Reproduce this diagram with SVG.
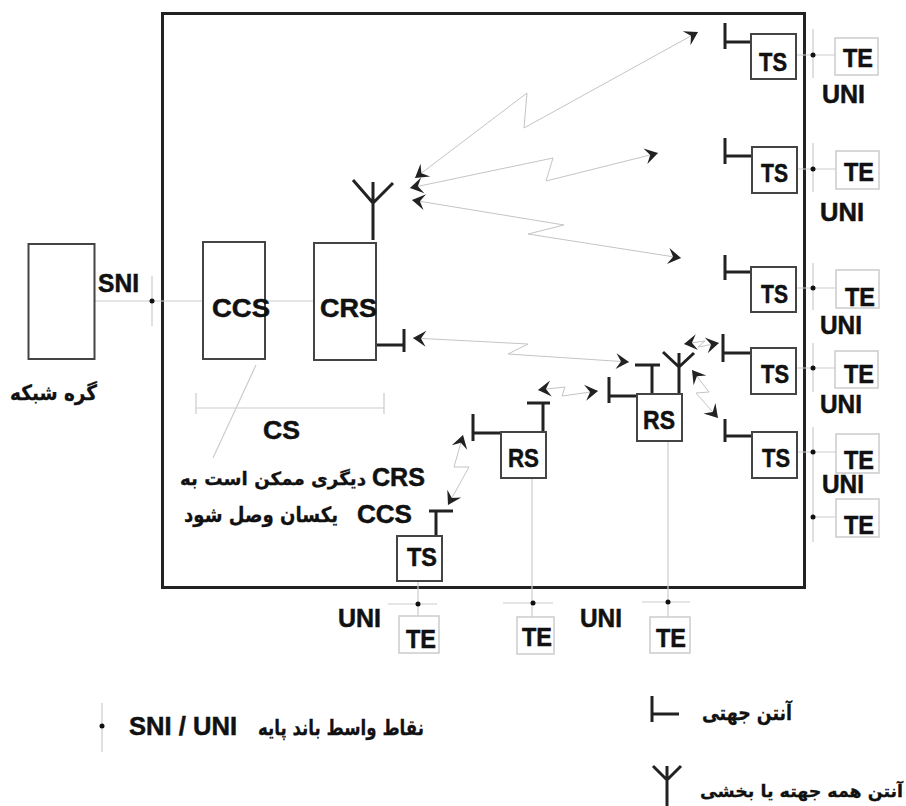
<svg xmlns="http://www.w3.org/2000/svg" width="906" height="806" viewBox="0 0 906 806">
<style>
.f{fill:none;stroke:#222;stroke-width:3}
.box{fill:#fff;stroke:#444;stroke-width:2}
.te{fill:#fff;stroke:#ccc;stroke-width:1.5}
.ant{fill:none;stroke:#222;stroke-width:3}
.l{fill:none;stroke:#ccc;stroke-width:1.2}
.z{fill:none;stroke:#c4c4c4;stroke-width:1;marker-start:url(#h);marker-end:url(#h)}
.d{fill:#111}
text{font-family:"Liberation Sans",Arial,sans-serif;font-weight:700;fill:#111;stroke:#111;stroke-width:.5px;font-size:25px}
.a{font-family:"DejaVu Sans",sans-serif;font-size:21px;stroke-width:.3px}
.s{font-size:18px}
.t{font-size:17px}
</style>
<defs>
<marker id="h" markerUnits="userSpaceOnUse" markerWidth="20" markerHeight="20" refX="16" refY="10" orient="auto-start-reverse" viewBox="0 0 20 20">
<path d="M3 2L16 10L3 18L8 10Z" fill="#222"/>
</marker>
</defs>
<rect id="frame" class="f" x="162.500" y="13.500" width="642" height="574"/>
<g id="connectors">
<path class="l" d="M94 301H203M152 276V326M265 301H314"/>
<path class="l" d="M196 408H384M196 393V414M384 393V414M256 365L213 458"/>
<path class="l" d="M796 55H835M813 29V78M797 169H836M813 143V192M796 288H836M813 263V310M796 368H835M813 343V392M797 452H836M813 427V542M813 517H836"/>
<path class="l" d="M418 581V616M388 604H437M532 478V617M503 603H553M668 441V617M642 602H690"/>
<path class="l" d="M102 703V752"/>
<polyline class="z" points="698,32 524,128 527,93 415,178"/>
<polyline class="z" points="658,153 546,181 553,158 410,188"/>
<polyline class="z" points="681,258 528,234 564,225 412,200"/>
<polyline class="z" points="413,338 528,344 508,354 629,362"/>
<polyline class="z" points="538,390 565,387 562,396 598,391"/>
<polyline class="z" points="684,344 705,341 698,347 719,343"/>
<polyline class="z" points="692,370 709,392 696,393 718,418"/>
<polyline class="z" points="463,435 454,467 469,467 448,505"/>
<g class="d">
<circle cx="152" cy="301" r="2.500"/><circle cx="813" cy="55" r="2.500"/><circle cx="813" cy="169" r="2.500"/><circle cx="813" cy="288" r="2.500"/><circle cx="813" cy="368" r="2.500"/><circle cx="813" cy="452" r="2.500"/><circle cx="813" cy="517" r="2.500"/><circle cx="418" cy="604" r="2.500"/><circle cx="533" cy="603" r="2.500"/><circle cx="668" cy="602" r="2.500"/><circle cx="102" cy="726" r="2.500"/>
</g>
</g>
<g id="network-node"><rect class="box" x="28.500" y="244" width="66" height="115"/><text class="a" x="10" y="400" textLength="87" lengthAdjust="spacingAndGlyphs">گره شبکه</text></g>
<g id="sni-label"><text x="98" y="292" textLength="41" lengthAdjust="spacingAndGlyphs">SNI</text></g>
<g id="ccs"><rect class="box" x="203" y="242" width="62" height="117"/><text x="212" y="317" textLength="58" lengthAdjust="spacingAndGlyphs">CCS</text></g>
<g id="crs"><path class="ant" d="M373 240V203M373 182V203M353 180L373 203L393 183M376 345H404M404 329V352"/><rect class="box" x="314" y="243" width="62" height="117"/><text x="320" y="317" textLength="57" lengthAdjust="spacingAndGlyphs">CRS</text></g>
<g id="cs"><text x="263" y="439" textLength="37" lengthAdjust="spacingAndGlyphs">CS</text></g>
<g id="note">
<text x="372" y="486" textLength="53" lengthAdjust="spacingAndGlyphs">CRS</text>
<text class="a s" x="180" y="485" textLength="186" lengthAdjust="spacingAndGlyphs">دیگری ممکن است به</text>
<text x="357" y="523" textLength="55" lengthAdjust="spacingAndGlyphs">CCS</text>
<text class="a" x="184" y="522" textLength="154" lengthAdjust="spacingAndGlyphs">یکسان وصل شود</text>
</g>
<g id="ts1"><path class="ant" d="M725 23V49M725 42H751"/><rect class="box" x="751" y="34" width="45" height="45"/><text x="759" y="71" textLength="28" lengthAdjust="spacingAndGlyphs">TS</text></g>
<g id="te1"><rect class="te" x="835" y="38" width="43" height="37"/><text x="843" y="67" textLength="30" lengthAdjust="spacingAndGlyphs">TE</text></g>
<text x="822" y="103" textLength="43" lengthAdjust="spacingAndGlyphs">UNI</text>
<g id="ts2"><path class="ant" d="M725 138V164M725 156H752"/><rect class="box" x="752" y="147" width="45" height="46"/><text x="761" y="182" textLength="27" lengthAdjust="spacingAndGlyphs">TS</text></g>
<g id="te2"><rect class="te" x="836" y="151" width="43" height="38"/><text x="844" y="181" textLength="30" lengthAdjust="spacingAndGlyphs">TE</text></g>
<text x="820" y="221" textLength="44" lengthAdjust="spacingAndGlyphs">UNI</text>
<g id="ts3"><path class="ant" d="M725 255V280M725 272H751"/><rect class="box" x="751" y="267" width="45" height="45"/><text x="761" y="303" textLength="27" lengthAdjust="spacingAndGlyphs">TS</text></g>
<g id="te3"><rect class="te" x="836" y="270" width="43" height="38"/><text x="845" y="306" textLength="30" lengthAdjust="spacingAndGlyphs">TE</text></g>
<text x="820" y="334" textLength="42" lengthAdjust="spacingAndGlyphs">UNI</text>
<g id="ts4"><path class="ant" d="M723 334V362M723 353H751"/><rect class="box" x="751" y="348" width="45" height="46"/><text x="761" y="383" textLength="28" lengthAdjust="spacingAndGlyphs">TS</text></g>
<g id="te4"><rect class="te" x="835" y="351" width="43" height="37"/><text x="844" y="383" textLength="30" lengthAdjust="spacingAndGlyphs">TE</text></g>
<text x="820" y="413" textLength="42" lengthAdjust="spacingAndGlyphs">UNI</text>
<g id="ts5"><path class="ant" d="M725 419V442M725 436H752"/><rect class="box" x="752" y="432" width="45" height="46"/><text x="762" y="467" textLength="28" lengthAdjust="spacingAndGlyphs">TS</text></g>
<g id="te5"><rect class="te" x="836" y="434" width="43" height="39"/><text x="844" y="469" textLength="30" lengthAdjust="spacingAndGlyphs">TE</text></g>
<text x="822" y="493" textLength="42" lengthAdjust="spacingAndGlyphs">UNI</text>
<g id="te6"><rect class="te" x="836" y="499" width="43" height="38"/><text x="844" y="534" textLength="30" lengthAdjust="spacingAndGlyphs">TE</text></g>
<g id="rs2"><path class="ant" d="M637 396H609M609 377V403M652 394V365M635 365H660M679 394V367M679 353V367M663 352L679 367L694 353"/><rect class="box" x="637" y="394" width="45" height="47"/><text x="643" y="429" textLength="32" lengthAdjust="spacingAndGlyphs">RS</text></g>
<g id="rs1"><path class="ant" d="M501 433H473M473 414V441M543 432V403M527 403H550"/><rect class="box" x="501" y="432" width="45" height="46"/><text x="508" y="467" textLength="31" lengthAdjust="spacingAndGlyphs">RS</text></g>
<g id="ts6"><path class="ant" d="M436 536V511M429 511H453"/><rect class="box" x="397" y="536" width="45" height="45"/><text x="407" y="566" textLength="30" lengthAdjust="spacingAndGlyphs">TS</text></g>
<g id="te7"><rect class="te" x="399" y="616" width="40" height="37"/><text x="406" y="648" textLength="30" lengthAdjust="spacingAndGlyphs">TE</text></g>
<g id="te8"><rect class="te" x="517" y="617" width="37" height="37"/><text x="522" y="646" textLength="30" lengthAdjust="spacingAndGlyphs">TE</text></g>
<g id="te9"><rect class="te" x="650" y="617" width="40" height="36"/><text x="656" y="647" textLength="30" lengthAdjust="spacingAndGlyphs">TE</text></g>
<text x="338" y="627" textLength="43" lengthAdjust="spacingAndGlyphs">UNI</text>
<text x="580" y="627" textLength="42" lengthAdjust="spacingAndGlyphs">UNI</text>
<g id="legend">
<text x="129" y="735" textLength="108" lengthAdjust="spacingAndGlyphs">SNI / UNI</text>
<text class="a" x="258" y="735" textLength="166" lengthAdjust="spacingAndGlyphs">نقاط واسط باند پایه</text>
<path class="ant" d="M652 696V722M652 714H679"/>
<text class="a" x="702" y="720" textLength="90" lengthAdjust="spacingAndGlyphs">آنتن جهتی</text>
<path class="ant" d="M667 766V806M653 766L667 780L681 766"/>
<text class="a t" x="700" y="797" textLength="203" lengthAdjust="spacingAndGlyphs">آنتن همه جهته یا بخشی</text>
</g>
</svg>
